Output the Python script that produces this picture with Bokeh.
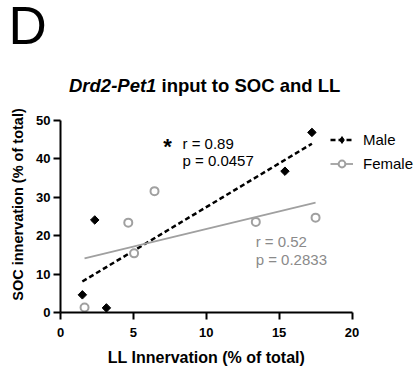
import numpy as np
from bokeh.plotting import figure
from bokeh.models import Label, Legend, LegendItem, Range1d, FixedTicker
from bokeh.embed import file_html
from bokeh.resources import INLINE

# LL vs SOC innervation (% of total) per animal
male_ll = [1.5, 2.35, 3.15, 15.4, 17.25]
male_soc = [4.6, 24.1, 1.2, 36.8, 46.9]
female_ll = [1.65, 4.65, 5.05, 6.45, 13.4, 17.5]
female_soc = [1.3, 23.4, 15.4, 31.6, 23.6, 24.7]

# Pearson correlation results
male_r, male_p = "0.89", "0.0457"
female_r, female_p = "0.52", "0.2833"

x_ticks = [0, 5, 10, 15, 20]
y_ticks = [0, 10, 20, 30, 40, 50]
x_span = (0, 20)
y_span = (0, 50)

FONT = "Liberation Sans"
GREY = "#a0a0a0"
GREY_TEXT = "#8a8a8a"

# canvas geometry (pixels): the plotting area sits inside a full-canvas frame
W, H = 418, 368
AX_LEFT, AX_RIGHT = 60.0, 351.5      # x = 0 .. 20
AX_BOTTOM, AX_TOP = 312.0, 120.0     # y = 0 .. 50 (from top of canvas)

kx = (AX_RIGHT - AX_LEFT) / (x_span[1] - x_span[0])
ky = (AX_BOTTOM - AX_TOP) / (y_span[1] - y_span[0])
x_range = Range1d(x_span[0] - AX_LEFT / kx, x_span[0] + (W - AX_LEFT) / kx)
y_range = Range1d(y_span[0] - (H - AX_BOTTOM) / ky, y_span[0] + AX_BOTTOM / ky)


def fit_line(x, y):
    """Least-squares line spanning the x extent of a group."""
    slope, intercept = np.polyfit(x, y, 1)
    xs = np.array([min(x), max(x)])
    return xs, slope * xs + intercept


p = figure(width=W, height=H, x_range=x_range, y_range=y_range,
           output_backend="svg", toolbar_location=None,
           min_border_left=0, min_border_right=0,
           min_border_top=0, min_border_bottom=0)
p.outline_line_color = None
p.grid.visible = False

p.xaxis.ticker = FixedTicker(ticks=x_ticks)
p.yaxis.ticker = FixedTicker(ticks=y_ticks)
p.xaxis.bounds = x_span
p.yaxis.bounds = y_span
p.xaxis.fixed_location = y_span[0]
p.yaxis.fixed_location = x_span[0]
p.xaxis.axis_label = "LL Innervation (% of total)"

for ax in (p.xaxis[0], p.yaxis[0]):
    ax.axis_line_width = 2
    ax.axis_line_color = "black"
    ax.major_tick_line_width = 2
    ax.major_tick_line_color = "black"
    ax.major_tick_out = 7
    ax.major_tick_in = 0
    ax.minor_tick_out = 0
    ax.minor_tick_in = 0
    ax.major_label_text_font = FONT
    ax.major_label_text_font_style = "bold"
    ax.major_label_text_font_size = "13px"
    ax.major_label_text_color = "black"
    ax.axis_label_text_font = FONT
    ax.axis_label_text_font_style = "bold"
    ax.axis_label_text_color = "black"
p.xaxis.axis_label_text_font_size = "16px"
p.xaxis.major_label_standoff = 8
p.yaxis.major_label_standoff = 3
p.xaxis.axis_label_standoff = 9

# y-axis title, set along the left side of the axis
p.add_layout(Label(x=17.5, y=H - 204, x_units="screen", y_units="screen",
                   text="SOC innervation (% of total)", angle=np.pi / 2,
                   text_align="center", text_baseline="middle", text_font=FONT,
                   text_font_style="bold", text_font_size="14.5px", text_color="black"))

# regression lines
mx, my = fit_line(male_ll, male_soc)
fx, fy = fit_line(female_ll, female_soc)
male_line = p.line(mx, my, line_color="black", line_width=2.5, line_dash="5 3")
female_line = p.line(fx, fy, line_color=GREY, line_width=1.8)

# points
female_pts = p.scatter(female_ll, female_soc, marker="circle", size=8,
                       fill_color="white", line_color=GREY, line_width=2)
male_pts = p.scatter(male_ll, male_soc, marker="square", angle=np.pi / 4, size=6,
                     fill_color="black", line_color="black")
# legend swatch for the male markers (upright diamond, not drawn in the plot)
male_key = p.scatter([np.nan], [np.nan], marker="diamond", size=9,
                     fill_color="black", line_color="black")

legend = Legend(items=[LegendItem(label="Male", renderers=[male_line, male_key]),
                       LegendItem(label="Female", renderers=[female_line, female_pts])],
                location=(330, 196), orientation="vertical",
                border_line_color=None, background_fill_alpha=0,
                padding=0, margin=0, spacing=7,
                glyph_width=23, glyph_height=17, label_height=17,
                label_standoff=10, label_text_font=FONT,
                label_text_font_size="15px", label_text_color="black")
p.add_layout(legend, "center")

# correlation annotations
p.add_layout(Label(x=7.05, y=40.0, text="*", text_font=FONT, text_font_style="bold",
                   text_font_size="22px", text_color="black"))
p.add_layout(Label(x=8.37, y=44.1, text=f"r = {male_r}", text_font=FONT,
                   text_font_size="15px", text_baseline="middle", text_color="black"))
p.add_layout(Label(x=8.37, y=39.7, text=f"p = {male_p}", text_font=FONT,
                   text_font_size="15px", text_baseline="middle", text_color="black"))
p.add_layout(Label(x=13.39, y=18.4, text=f"r = {female_r}", text_font=FONT,
                   text_font_size="15px", text_baseline="middle", text_color=GREY_TEXT))
p.add_layout(Label(x=13.39, y=13.7, text=f"p = {female_p}", text_font=FONT,
                   text_font_size="15px", text_baseline="middle", text_color=GREY_TEXT))

# title, in two parts so the gene name can be italic
p.add_layout(Label(x=68.5, y=H - 95.5, x_units="screen", y_units="screen",
                   text="Drd2-Pet1", text_font=FONT, text_font_style="bold italic",
                   text_font_size="18.5px", text_color="black"))
p.add_layout(Label(x=161.0, y=H - 95.5, x_units="screen", y_units="screen",
                   text="input to SOC and LL", text_font=FONT, text_font_style="bold",
                   text_font_size="18.5px", text_color="black"))

# panel letter
p.add_layout(Label(x=8, y=H - 54, x_units="screen", y_units="screen", text="D",
                   text_font=FONT, text_font_size="53px", text_color="black"))

open("out.html", "w").write(file_html(p, INLINE))
